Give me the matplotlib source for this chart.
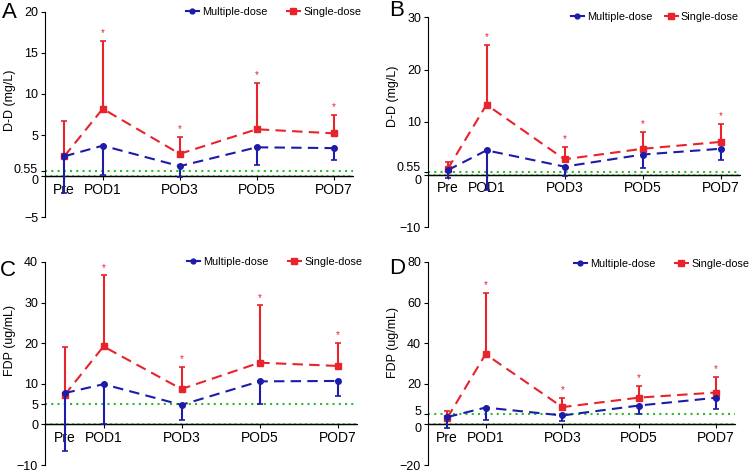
import numpy as np
import matplotlib
matplotlib.use("Agg")
import matplotlib.pyplot as plt
from matplotlib.lines import Line2D
from matplotlib.transforms import ScaledTranslation

plt.rcParams['font.family'] = ['Liberation Sans', 'DejaVu Sans']

# time points (days) and labels
days = [0, 1, 3, 5, 7]
day_labels = ['Pre', 'POD1', 'POD3', 'POD5', 'POD7']

# A: D-D (mg/L)
a_multi = [2.4, 3.7, 1.2, 3.5, 3.4]
a_multi_lo = [4.5, 3.6, 1.3, 2.2, 1.4]
a_single = [2.4, 8.2, 2.7, 5.7, 5.2]
a_single_hi = [4.3, 8.3, 2.1, 5.6, 2.2]

# B: D-D (mg/L)
b_multi = [0.8, 4.6, 1.5, 3.8, 4.9]
b_multi_lo = [1.5, 7.5, 1.8, 2.6, 2.2]
b_single = [1.0, 13.3, 2.9, 4.9, 6.2]
b_single_hi = [1.4, 11.3, 2.3, 3.2, 3.4]

# C: FDP (ug/mL)
c_multi = [7.7, 9.9, 4.8, 10.6, 10.7]
c_multi_lo = [14.3, 9.9, 3.6, 5.6, 3.6]
c_single = [7.2, 19.2, 8.7, 15.2, 14.4]
c_single_hi = [11.8, 17.5, 5.4, 14.1, 5.7]

# D: FDP (ug/mL)
d_multi = [3.6, 8.3, 4.4, 9.3, 13.1]
d_multi_lo = [5.2, 5.9, 2.8, 4.4, 5.3]
d_single = [3.1, 34.6, 8.5, 13.2, 15.7]
d_single_hi = [3.4, 30.1, 4.4, 5.9, 7.8]

blue = '#1c1ca8'
red = '#e8232b'
green = '#2dbb2d'

W, H = 756, 472

def px_box(left, top, right, bottom):
    return [left / W, 1 - bottom / H, (right - left) / W, (bottom - top) / H]

def fmt(t):
    return str(t).replace('-', '\u2212')

panels = [
    ('A', px_box(45, 12, 353, 217), (9, 12), a_multi, a_multi_lo, a_single, a_single_hi,
     'D-D (mg/L)', (-5, 20), [-5, 0, 0.55, 5, 10, 15, 20], 0.55, 0.57, (1.04, 1.0), 1.8, 2.5),
    ('B', px_box(428, 17, 740, 227), (397, 10), b_multi, b_multi_lo, b_single, b_single_hi,
     'D-D (mg/L)', (-10, 30), [-10, 0, 0.55, 10, 20, 30], 0.55, 0.62, (1.01, 1.0), 1.1, 3.5),
    ('C', px_box(45, 262, 357, 465), (8, 270), c_multi, c_multi_lo, c_single, c_single_hi,
     'FDP (ug/mL)', (-10, 40), [-10, 0, 5, 10, 20, 30, 40], 5, 0.615, (1.03, 1.0), 1.8, 0),
    ('D', px_box(428, 262, 735, 465), (397, 268), d_multi, d_multi_lo, d_single, d_single_hi,
     'FDP (ug/mL)', (-20, 80), [-20, 0, 5, 20, 40, 60, 80], 5, 0.605, (1.06, 0.99), 1.8, 2.5),
]

fig = plt.figure(figsize=(7.56, 4.72), dpi=100)

for (letter, pos, lpos, m, mlo, s, shi, ylabel, ylim, yticks, ref,
     ylab_y, leg_anchor, colsp, nudge) in panels:
    ax = fig.add_axes(pos)
    ax.axhline(0, color='black', linewidth=1.0, zorder=1)
    ax.axhline(0, color=green, linestyle=(0, (1, 2)), linewidth=1.3, zorder=1.5)
    ax.axhline(ref, color=green, linestyle=(0, (1, 2)), linewidth=1.5, zorder=1.5)
    ax.errorbar(days, m, yerr=[mlo, [0] * 5], color=blue, linestyle=(0, (5, 3)),
                linewidth=1.5, marker='o', markersize=4, capsize=2.5, elinewidth=1.5,
                capthick=1.2, zorder=3)
    ax.errorbar(days, s, yerr=[[0] * 5, shi], color=red, linestyle=(0, (5, 3)),
                linewidth=1.5, marker='s', markersize=5, capsize=2.5, elinewidth=1.5,
                capthick=1.2, zorder=2)
    for d, v, e in list(zip(days, s, shi))[1:]:
        ax.annotate('*', (d, v + e), xytext=(0, 2), textcoords='offset points',
                    ha='center', va='bottom', color=red, fontsize=7)
    ax.set_xlim(-0.5, 7.5)
    ax.set_ylim(*ylim)
    ax.set_yticks(yticks)
    ax.set_yticklabels([fmt(t) for t in yticks], fontsize=9)
    ax.set_xticks(days)
    ax.set_xticklabels(day_labels, fontsize=9)
    ax.spines['top'].set_visible(False)
    ax.spines['right'].set_visible(False)
    ax.spines['bottom'].set_position(('data', 0))
    ax.tick_params(axis='both', length=3, width=0.8, pad=2)
    ax.set_ylabel(ylabel, fontsize=9)
    ax.yaxis.set_label_coords(-29 / (pos[2] * W), ylab_y)

    # nudge the crowded labels near zero apart
    if nudge:
        for lab, t in zip(ax.get_yticklabels(), yticks):
            if t == ref:
                lab.set_transform(lab.get_transform() +
                                  ScaledTranslation(0, nudge / 72, fig.dpi_scale_trans))
            elif t == 0:
                lab.set_transform(lab.get_transform() +
                                  ScaledTranslation(0, -nudge / 72, fig.dpi_scale_trans))

    handles = [Line2D([], [], color=blue, marker='o', markersize=3.5, linewidth=1.5),
               Line2D([], [], color=red, marker='s', markersize=4, linewidth=1.5)]
    ax.legend(handles, ['Multiple-dose', 'Single-dose'], loc='center right', ncol=2,
              frameon=False, fontsize=7.8, handlelength=1.2, columnspacing=colsp,
              handletextpad=0.3, borderaxespad=0, bbox_to_anchor=leg_anchor)
    fig.text(lpos[0] / W, 1 - lpos[1] / H, letter, fontsize=16,
             va='center', ha='center')

fig.savefig('out.png', dpi=100)
